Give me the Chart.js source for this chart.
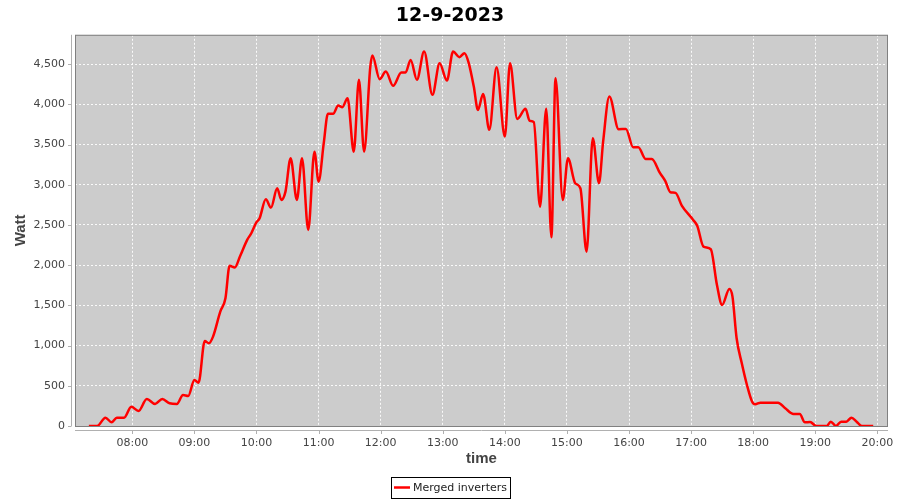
<!DOCTYPE html>
<html>
<head>
<meta charset="utf-8">
<title>12-9-2023</title>
<script src="https://cdn.jsdelivr.net/npm/chart.js@4.4.0/dist/chart.umd.min.js"></script>
<style>
    html, body { margin: 0; padding: 0; background: #ffffff; }
    #wrap { width: 900px; height: 500px; }
</style>
</head>
<body>
<div id="wrap"><canvas id="powerChart" width="900" height="500"></canvas></div>
<script>
// Chart data
const chartTitle = '12-9-2023';
const seriesLabel = 'Merged inverters';

const sampleTimes = [
    '07:18', '07:26', '07:34', '07:40', '07:45', '07:52', '07:59', '08:06', '08:14', '08:22',
    '08:29', '08:36', '08:43', '08:49', '08:54', '09:00', '09:04', '09:10', '09:14', '09:18',
    '09:25', '09:30', '09:34', '09:39', '09:44', '09:51', '09:55', '10:00', '10:03', '10:09',
    '10:14', '10:20', '10:24', '10:28', '10:33', '10:39', '10:44', '10:50', '10:56', '11:00',
    '11:05', '11:09', '11:14', '11:19', '11:23', '11:28', '11:34', '11:39', '11:44', '11:50',
    '11:52', '11:59', '12:05', '12:12', '12:20', '12:24', '12:29', '12:35', '12:42', '12:50',
    '12:57', '13:04', '13:10', '13:16', '13:21', '13:25', '13:30', '13:34', '13:39', '13:45',
    '13:52', '14:00', '14:05', '14:12', '14:20', '14:24', '14:28', '14:34', '14:40', '14:45',
    '14:49', '14:56', '15:01', '15:08', '15:13', '15:19', '15:25', '15:31', '15:35', '15:41',
    '15:50', '15:57', '16:04', '16:09', '16:16', '16:22', '16:30', '16:35', '16:40', '16:45',
    '16:51', '17:02', '17:06', '17:12', '17:19', '17:25', '17:30', '17:37', '17:40', '17:44',
    '17:49', '17:54', '17:59', '18:02', '18:07', '18:24', '18:31', '18:39', '18:45', '18:50',
    '18:55', '19:01', '19:11', '19:15', '19:20', '19:25', '19:30', '19:35', '19:40', '19:45',
    '19:56'
];

const wattValues = [
    0, 0, 103, 46, 103, 103, 240, 187, 336, 274,
    336, 282, 274, 386, 373, 572, 539, 1057, 1029, 1111,
    1422, 1589, 1994, 1970, 2107, 2314, 2397, 2534, 2584, 2820,
    2716, 2957, 2812, 2915, 3330, 2812, 3330, 2438, 3412, 3039,
    3517, 3882, 3882, 3985, 3965, 4077, 3412, 4305, 3412, 4470,
    4607, 4313, 4408, 4230, 4395, 4395, 4553, 4305, 4657, 4118,
    4512, 4296, 4657, 4587, 4637, 4520, 4222, 3931, 4130, 3683,
    4463, 3599, 4512, 3819, 3944, 3795, 3778, 2728, 3944, 2348,
    4326, 2812, 3330, 3019, 2957, 2168, 3579, 3019, 3537, 4097,
    3691, 3695, 3467, 3467, 3321, 3321, 3144, 3048, 2907, 2899,
    2741, 2563, 2488, 2231, 2198, 1754, 1505, 1704, 1609, 1091,
    780, 510, 302, 270, 290, 290, 220, 149, 149, 46,
    50, 0, 0, 54, 0, 54, 54, 103, 54, 0,
    0
];

// Tick values
const timeTicks = ['08:00', '09:00', '10:00', '11:00', '12:00', '13:00', '14:00',
    '15:00', '16:00', '17:00', '18:00', '19:00', '20:00'];
const wattTicks = [0, 500, 1000, 1500, 2000, 2500, 3000, 3500, 4000, 4500];

// Axis ranges (minutes since midnight / watt)
const xMin = 424.6;   // about 07:05
const xMax = 1210.3;  // about 20:10
const yMax = 4865;

const FONT = '"DejaVu Sans", sans-serif';

function toMinutes(hhmm) {
    const parts = hhmm.split(':');
    return Number(parts[0]) * 60 + Number(parts[1]);
}

function formatClock(minutes) {
    const h = Math.floor(minutes / 60);
    const m = Math.round(minutes % 60);
    return String(h).padStart(2, '0') + ':' + String(m).padStart(2, '0');
}

// Plot background, outline, offset axis lines and a framed legend
const plotFrame = {
    id: 'plotFrame',
    beforeDraw(chart) {
        const { ctx, chartArea: a } = chart;
        ctx.save();
        ctx.fillStyle = '#ffffff';
        ctx.fillRect(0, 0, chart.width, chart.height);
        ctx.fillStyle = '#cccccc';
        ctx.fillRect(a.left, a.top, a.right - a.left, a.bottom - a.top);
        ctx.restore();
    },
    afterDraw(chart) {
        const { ctx, chartArea: a } = chart;
        const xScale = chart.scales.x;
        const yScale = chart.scales.y;
        ctx.save();

        // plot outline
        ctx.strokeStyle = '#808080';
        ctx.lineWidth = 1;
        ctx.strokeRect(a.left + 0.5, a.top + 0.5, a.right - a.left - 1, a.bottom - a.top);

        // axis lines, drawn a few pixels off the plot
        ctx.strokeStyle = '#b0b0b0';
        ctx.beginPath();
        ctx.moveTo(a.left - 3.5, a.top);
        ctx.lineTo(a.left - 3.5, a.bottom);
        ctx.moveTo(a.left, a.bottom + 4.5);
        ctx.lineTo(a.right, a.bottom + 4.5);
        yScale.ticks.forEach(t => {
            const y = Math.round(yScale.getPixelForValue(t.value)) + 0.5;
            ctx.moveTo(a.left - 7, y);
            ctx.lineTo(a.left - 3.5, y);
        });
        xScale.ticks.forEach(t => {
            const x = Math.round(xScale.getPixelForValue(t.value)) + 0.5;
            ctx.moveTo(x, a.bottom + 4.5);
            ctx.lineTo(x, a.bottom + 8);
        });
        ctx.stroke();

        // legend: line sample + label inside a black frame
        const ds = chart.data.datasets[0];
        ctx.font = '11px ' + FONT;
        const textW = ctx.measureText(ds.label).width;
        const boxW = Math.round(3 + 16 + 3 + textW + 3);
        const boxH = 21;
        const left = Math.round(chart.width / 2 - boxW / 2);
        const top = 477;
        const midY = top + boxH / 2;
        ctx.strokeStyle = '#000000';
        ctx.lineWidth = 1;
        ctx.strokeRect(left + 0.5, top + 0.5, boxW, boxH);
        ctx.strokeStyle = ds.borderColor;
        ctx.lineWidth = 2.5;
        ctx.beginPath();
        ctx.moveTo(left + 3, midY);
        ctx.lineTo(left + 19, midY);
        ctx.stroke();
        ctx.fillStyle = '#222222';
        ctx.textBaseline = 'middle';
        ctx.textAlign = 'left';
        ctx.fillText(ds.label, left + 22, midY + 0.5);
        ctx.restore();
    }
};

function buildPoints() {
    return sampleTimes.map((t, i) => ({ x: toMinutes(t), y: wattValues[i] }));
}

const gridStyle = {
    color: 'rgba(255,255,255,0.9)',
    lineWidth: 1,
    drawTicks: false
};

function initializeChart() {
    const ctx = document.getElementById('powerChart').getContext('2d');
    return new Chart(ctx, {
        type: 'line',
        data: {
            datasets: [{
                label: seriesLabel,
                data: buildPoints(),
                borderColor: '#ff0000',
                backgroundColor: '#ff0000',
                borderWidth: 2.5,
                pointRadius: 0,
                fill: false,
                cubicInterpolationMode: 'monotone'
            }]
        },
        options: {
            responsive: false,
            animation: false,
            layout: {
                padding: { left: 12, right: 12, top: 0, bottom: 0 }
            },
            scales: {
                x: {
                    type: 'linear',
                    min: xMin,
                    max: xMax,
                    border: { display: false, dash: [2, 2] },
                    grid: gridStyle,
                    afterBuildTicks: scale => {
                        scale.ticks = timeTicks.map(t => ({ value: toMinutes(t) }));
                    },
                    ticks: {
                        autoSkip: false,
                        maxRotation: 0,
                        padding: 11,
                        color: '#444444',
                        font: { family: FONT, size: 11 },
                        callback: value => formatClock(value)
                    },
                    title: {
                        display: true,
                        text: 'time',
                        color: '#444444',
                        font: { family: '"Liberation Sans", sans-serif', size: 15, weight: 'bold' },
                        padding: { top: 0, bottom: 32 }
                    },
                    afterFit: scale => {
                        scale.height = 74;
                        scale.paddingLeft = 0;
                        scale.paddingRight = 0;
                    }
                },
                y: {
                    min: 0,
                    max: yMax,
                    border: { display: false, dash: [2, 2] },
                    grid: gridStyle,
                    afterBuildTicks: scale => {
                        scale.ticks = wattTicks.map(v => ({ value: v }));
                    },
                    ticks: {
                        padding: 10,
                        color: '#444444',
                        font: { family: FONT, size: 11 },
                        callback: value => value.toLocaleString('en-US')
                    },
                    title: {
                        display: true,
                        text: 'Watt',
                        color: '#444444',
                        font: { family: '"Liberation Sans", sans-serif', size: 15, weight: 'bold' },
                        padding: { top: 0, bottom: 0 }
                    },
                    afterFit: scale => {
                        scale.width = 63;
                        scale.paddingTop = 0;
                        scale.paddingBottom = 0;
                    }
                }
            },
            plugins: {
                title: {
                    display: true,
                    text: chartTitle,
                    color: '#000000',
                    font: { family: FONT, size: 19, weight: 'bold' },
                    padding: { top: 5, bottom: 7 }
                },
                legend: { display: false },
                tooltip: { enabled: false }
            }
        },
        plugins: [plotFrame]
    });
}

document.addEventListener('DOMContentLoaded', () => {
    initializeChart();
});
</script>
</body>
</html>
